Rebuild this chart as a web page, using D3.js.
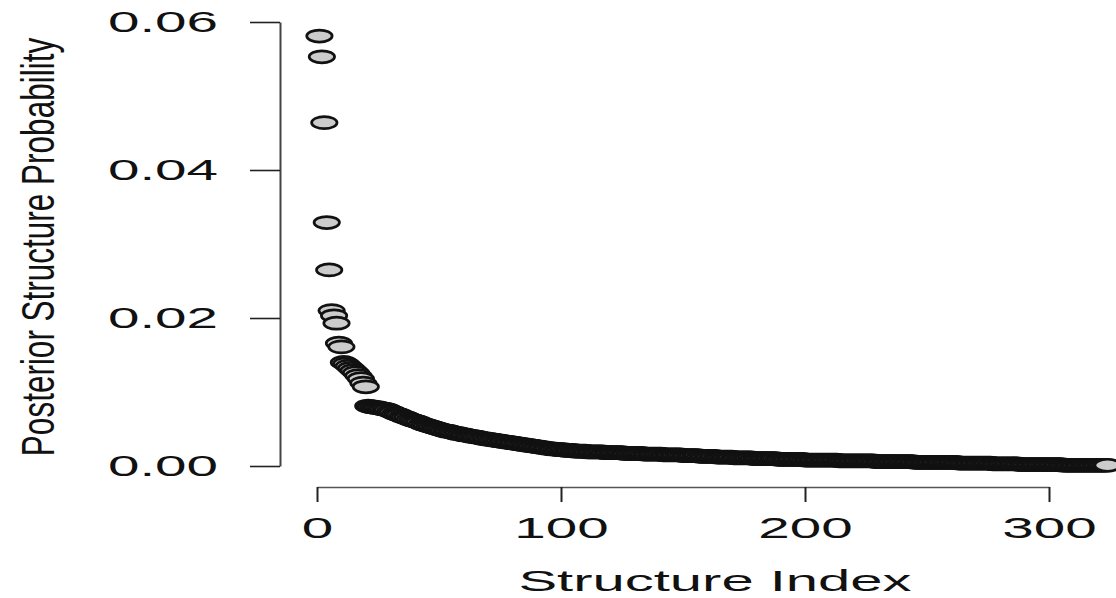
<!DOCTYPE html>
<meta charset="utf-8">
<head>
<style>
  body { margin: 0; background: #fff; }
  svg { display: block; font-family: "Liberation Sans", Arial, sans-serif; }
</style>
</head>
<body>
<!-- Load d3.js -->
<script src="https://d3js.org/d3.v7.min.js"></script>

<div id="my_dataviz"></div>

<script>
// posterior probability of each structure, sorted (index 1..324)
var probs = [
  0.0581, 0.0553, 0.0464, 0.0329, 0.0265, 0.0210, 0.0203, 0.0193, 0.0166, 0.0161, // 1-10
  0.0140, 0.0138, 0.0135, 0.0132, 0.0129, 0.0126, 0.0122, 0.0118, 0.0112, 0.0107, // 11-20
  0.0081, 0.0080, 0.0080, 0.0079, 0.0079, 0.0078, 0.0077, 0.0077, 0.0076, 0.0074, // 21-30
  0.0073, 0.0071, 0.0070, 0.0069, 0.0067, 0.0066, 0.0065, 0.0063, 0.0062, 0.0061, // 31-40
  0.0060, 0.0059, 0.0057, 0.0056, 0.0055, 0.0054, 0.0053, 0.0052, 0.0051, 0.0050, // 41-50
  0.0049, 0.0048, 0.0047, 0.0047, 0.0046, 0.0045, 0.0044, 0.0044, 0.0043, 0.0042, // 51-60
  0.0042, 0.0041, 0.0040, 0.0040, 0.0039, 0.0039, 0.0038, 0.0037, 0.0037, 0.0036, // 61-70
  0.0036, 0.0035, 0.0035, 0.0034, 0.0034, 0.0033, 0.0033, 0.0032, 0.0032, 0.0031, // 71-80
  0.0031, 0.0030, 0.0030, 0.0029, 0.0029, 0.0028, 0.0028, 0.0027, 0.0027, 0.0026, // 81-90
  0.0026, 0.0025, 0.0025, 0.0024, 0.0024, 0.0023, 0.0023, 0.0023, 0.0022, 0.0022, // 91-100
  0.0022, 0.0021, 0.0021, 0.0021, 0.0021, 0.0020, 0.0020, 0.0020, 0.0020, 0.0020, // 101-110
  0.0019, 0.0019, 0.0019, 0.0019, 0.0019, 0.0019, 0.0019, 0.0018, 0.0018, 0.0018, // 111-120
  0.0018, 0.0018, 0.0018, 0.0018, 0.0018, 0.0017, 0.0017, 0.0017, 0.0017, 0.0017, // 121-130
  0.0017, 0.0017, 0.0017, 0.0016, 0.0016, 0.0016, 0.0016, 0.0016, 0.0016, 0.0016, // 131-140
  0.0016, 0.0015, 0.0015, 0.0015, 0.0015, 0.0015, 0.0015, 0.0015, 0.0015, 0.0014, // 141-150
  0.0014, 0.0014, 0.0014, 0.0014, 0.0014, 0.0014, 0.0013, 0.0013, 0.0013, 0.0013, // 151-160
  0.0013, 0.0013, 0.0013, 0.0012, 0.0012, 0.0012, 0.0012, 0.0012, 0.0012, 0.0012, // 161-170
  0.0011, 0.0011, 0.0011, 0.0011, 0.0011, 0.0011, 0.0011, 0.0011, 0.0010, 0.0010, // 171-180
  0.0010, 0.0010, 0.0010, 0.0010, 0.0010, 0.0010, 0.0010, 0.0010, 0.0009, 0.0009, // 181-190
  0.0009, 0.0009, 0.0009, 0.0009, 0.0009, 0.0009, 0.0009, 0.0009, 0.0009, 0.0008, // 191-200
  0.0008, 0.0008, 0.0008, 0.0008, 0.0008, 0.0008, 0.0008, 0.0008, 0.0008, 0.0008, // 201-210
  0.0008, 0.0008, 0.0008, 0.0007, 0.0007, 0.0007, 0.0007, 0.0007, 0.0007, 0.0007, // 211-220
  0.0007, 0.0007, 0.0007, 0.0007, 0.0007, 0.0007, 0.0007, 0.0007, 0.0006, 0.0006, // 221-230
  0.0006, 0.0006, 0.0006, 0.0006, 0.0006, 0.0006, 0.0006, 0.0006, 0.0006, 0.0006, // 231-240
  0.0006, 0.0006, 0.0006, 0.0006, 0.0005, 0.0005, 0.0005, 0.0005, 0.0005, 0.0005, // 241-250
  0.0005, 0.0005, 0.0005, 0.0005, 0.0005, 0.0005, 0.0005, 0.0005, 0.0005, 0.0005, // 251-260
  0.0005, 0.0005, 0.0004, 0.0004, 0.0004, 0.0004, 0.0004, 0.0004, 0.0004, 0.0004, // 261-270
  0.0004, 0.0004, 0.0004, 0.0004, 0.0004, 0.0004, 0.0003, 0.0003, 0.0003, 0.0003, // 271-280
  0.0003, 0.0003, 0.0003, 0.0003, 0.0003, 0.0003, 0.0003, 0.0002, 0.0002, 0.0002, // 281-290
  0.0002, 0.0002, 0.0002, 0.0002, 0.0002, 0.0002, 0.0002, 0.0002, 0.0002, 0.0002, // 291-300
  0.0002, 0.0002, 0.0002, 0.0002, 0.0002, 0.0001, 0.0001, 0.0001, 0.0001, 0.0001, // 301-310
  0.0001, 0.0001, 0.0001, 0.0001, 0.0001, 0.0001, 0.0001, 0.0001, 0.0001, 0.0001, // 311-320
  0.0001, 0.0001, 0.0001, 0.0001                                                  // 321-324
];

var xTicks = [0, 100, 200, 300];
var yTicks = [0, 0.02, 0.04, 0.06];
var yTickLabels = ["0.00", "0.02", "0.04", "0.06"];
var xTitle = "Structure Index";
var yTitle = "Posterior Structure Probability";

// the picture is stretched sideways, so text gets a horizontal scale
var width = 1116, height = 598,
    stretch = 1.95;

var svg = d3.select("#my_dataviz")
  .append("svg")
    .attr("width", width)
    .attr("height", height);

// scales: axis lines run from first to last tick (R style)
var x = d3.scaleLinear()
  .domain([0, 300])
  .range([317, 1049]);

var y = d3.scaleLinear()
  .domain([0, 0.06])
  .range([466, 22]);

// X axis
var xAxis = svg.append("g")
  .attr("transform", "translate(0,487)")
  .call(d3.axisBottom(x).tickValues(xTicks).tickSize(15).tickSizeOuter(0)
    .tickFormat(function(d){ return d; }));
xAxis.select(".domain").attr("stroke", "#555").attr("stroke-width", 1.6);
xAxis.selectAll(".tick line").attr("stroke", "#222").attr("stroke-width", 2);
xAxis.selectAll(".tick text")
  .attr("y", 51)
  .attr("dy", 0)
  .attr("transform", "scale(" + stretch + ",1)")
  .attr("font-size", "29px")
  .attr("fill", "#111");

// Y axis
var yAxis = svg.append("g")
  .attr("transform", "translate(280,0)")
  .call(d3.axisLeft(y).tickValues(yTicks).tickSize(30).tickSizeOuter(0)
    .tickFormat(function(d, i){ return yTickLabels[i]; }));
yAxis.select(".domain").attr("stroke", "#444").attr("stroke-width", 2);
yAxis.selectAll(".tick line").attr("stroke", "#222").attr("stroke-width", 1.6);
yAxis.selectAll(".tick text")
  .attr("x", -62 / stretch)
  .attr("dy", "0.32em")
  .attr("transform", "scale(" + stretch + ",1)")
  .attr("font-size", "29px")
  .attr("fill", "#111");

// axis titles
svg.append("text")
  .attr("transform", "translate(715,591) scale(2,1)")
  .attr("text-anchor", "middle")
  .attr("font-size", "29px")
  .attr("fill", "#111")
  .text(xTitle);

svg.append("text")
  .attr("transform", "translate(54,247) scale(1.45,1) rotate(-90)")
  .attr("text-anchor", "middle")
  .attr("font-size", "31.5px")
  .attr("fill", "#111")
  .text(yTitle);

// points (drawn as wide ellipses because of the stretch)
svg.append("g")
  .selectAll("ellipse")
  .data(probs)
  .enter()
  .append("ellipse")
    .attr("cx", function(d, i){ return x(i + 1); })
    .attr("cy", function(d){ return y(d); })
    .attr("rx", 12.7)
    .attr("ry", 6)
    .attr("fill", "#cccccc")
    .attr("stroke", "#111")
    .attr("stroke-width", 2.7);
</script>
</body>
